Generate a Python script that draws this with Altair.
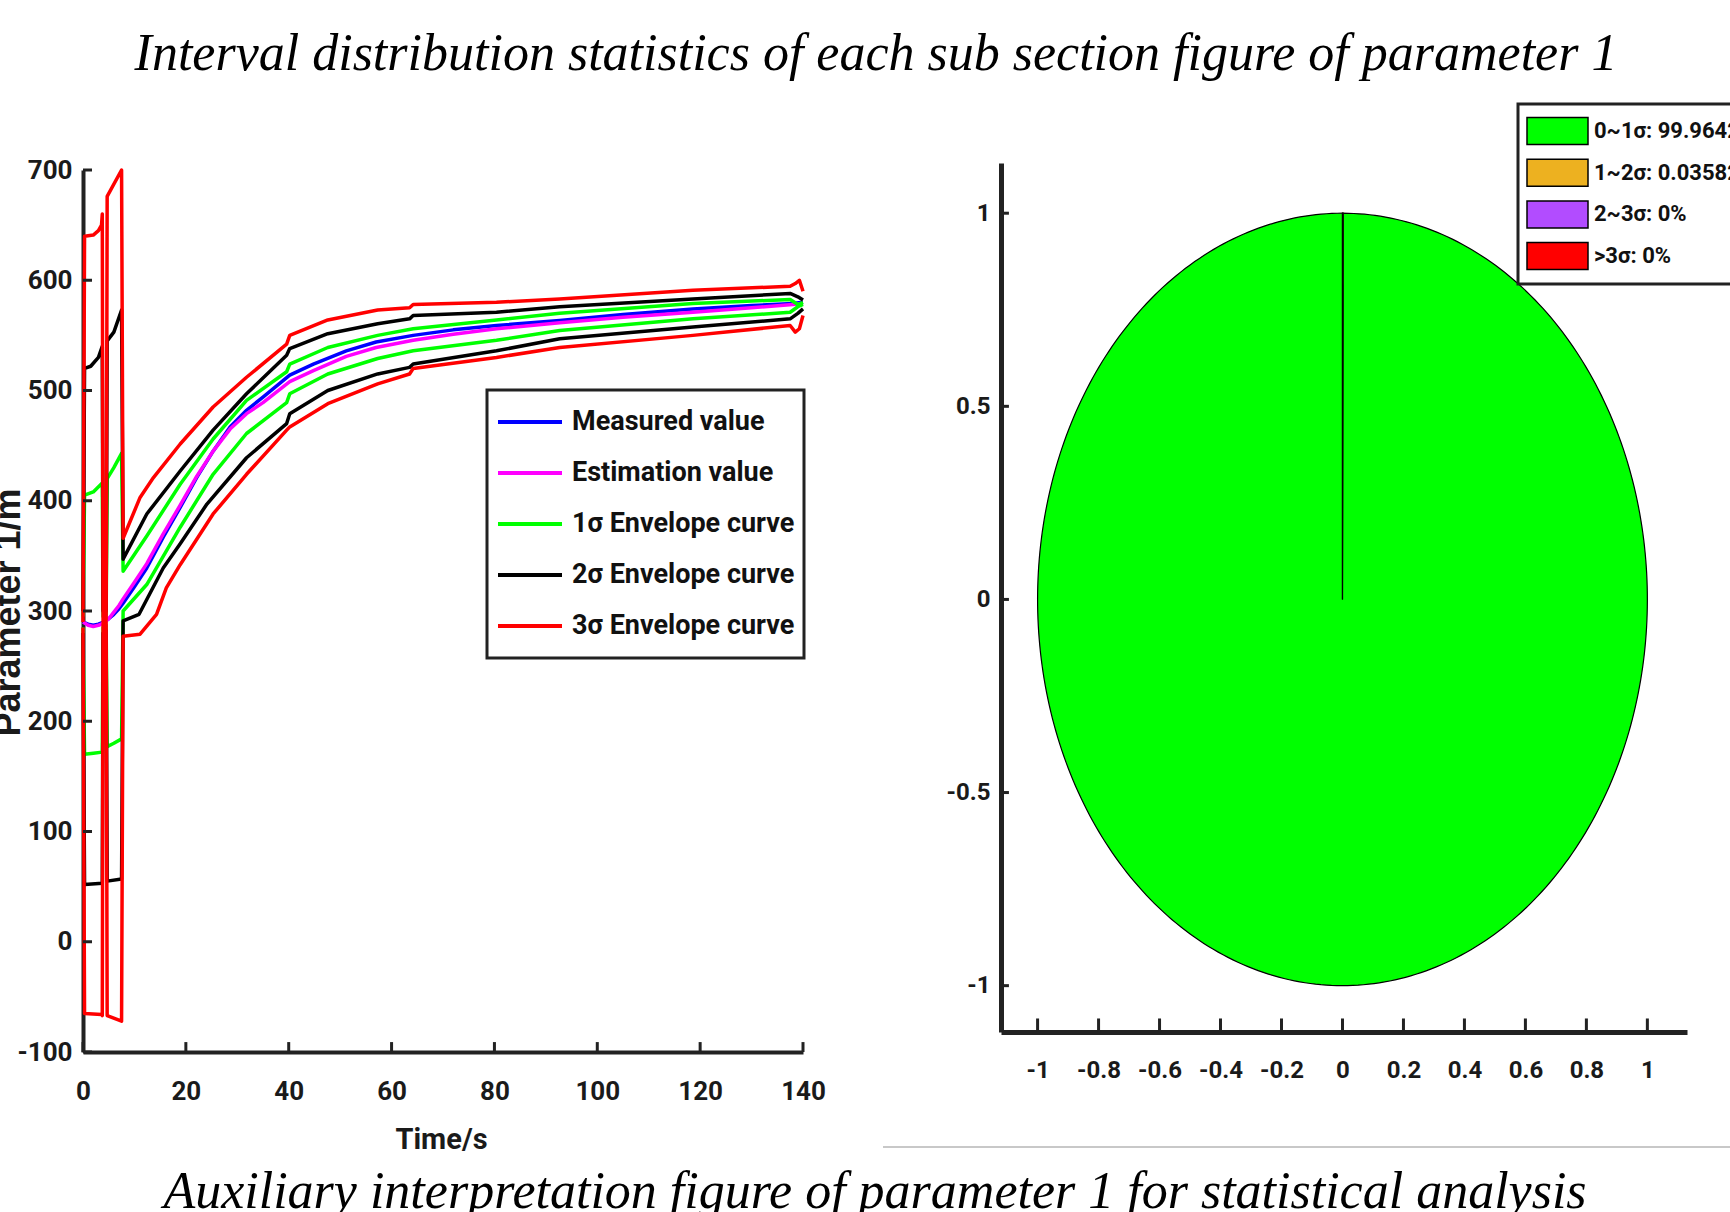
import math
import altair as alt
import pandas as pd

# ---------------- text ----------------
TITLE_TOP = "Interval distribution statistics of each sub section figure of parameter 1"
CAPTION = "Auxiliary interpretation figure of parameter 1 for statistical analysis"
X_TITLE = "Time/s"
Y_TITLE = "Parameter 1/m"

NARROW = "Roboto, Liberation Sans, Arial, sans-serif"
SANS = "Liberation Sans, Arial, sans-serif"
SERIF = "Liberation Serif, Times New Roman, serif"

# ---------------- left panel data ----------------
series_names = ["Measured value", "Estimation value", "1σ Envelope curve",
                "2σ Envelope curve", "3σ Envelope curve"]
series_colors = ["#0000ff", "#ff00ff", "#00ff00", "#000000", "#ff0000"]

center_t = [0, 1, 2, 3, 4, 5, 6, 7, 7.8, 10, 12.4, 15.6, 18.9, 22.1, 25.3, 28.6,
            31.8, 35, 40.2, 44.8, 51.2, 57, 64.2, 72, 80.4, 92.7, 105, 118.6, 130, 138, 140]
measured_v = [290, 288, 287, 288, 290, 293, 297, 302, 307, 322, 339, 367, 394, 421, 445, 467,
              482, 494, 514, 524, 536, 544, 550, 555, 559, 563.5, 569, 574, 577, 579, 580]
estimation_v = [290, 287, 286, 287, 289, 293, 299, 305, 311, 326, 343, 370, 396, 422, 445, 465,
                479, 489, 508, 518, 531, 539, 545.5, 551, 556, 561.5, 566.5, 571, 575, 578, 579]

g_t = [0, 0.3, 2, 3.75, 3.9, 4.5, 4.7, 6, 7.5, 7.8, 12.4, 18.9, 25.3, 31.8, 39.6, 40.2,
       47.6, 57.3, 64.2, 80.4, 92.7, 118.6, 137.5, 139, 140]
g_up_v = [295, 405, 408, 416, 295, 296, 420, 430, 443, 336, 368, 415, 456, 491, 517, 524,
          539, 550, 556, 564, 570, 579, 582.5, 578, 580]
g_lo_v = [285, 170, 171, 172, 285, 287, 177, 180, 184, 300, 324, 376, 424, 461, 489, 497,
          515, 529, 536, 545.5, 554.5, 565, 571, 576, 578]

k_up_t = [0, 0.3, 1.5, 3, 3.75, 3.9, 4.5, 4.7, 6, 7.5, 7.8, 12.4, 18.9, 25.3, 31.8, 39.6, 40.2,
          47.6, 57.3, 63.5, 64.2, 80.4, 92.7, 118.6, 137.5, 139, 140]
k_up_v = [300, 520, 522, 530, 540, 300, 300, 545, 553, 573, 347, 388, 427, 464, 497, 532, 538,
          551.5, 560.6, 565, 568, 571, 576, 583, 588, 585, 582]
k_lo_t = [0, 0.3, 3.75, 3.9, 4.5, 4.7, 7.5, 7.8, 10.9, 15.6, 18.9, 24.1, 31.8, 39.6, 40.2,
          47.6, 57.3, 63.5, 64.2, 80.4, 92.7, 118.6, 137.5, 139, 140]
k_lo_v = [280, 52, 53, 280, 282, 55, 57, 291, 297, 339, 361, 397, 439, 470, 479,
          500, 515, 521, 524, 536, 547, 557.5, 565, 570, 574]

r_up_t = [0, 0.3, 2, 3, 3.6, 3.75, 3.9, 4.5, 4.7, 7.5, 7.8, 11.1, 13.7, 18.9, 25.3, 31.8, 39.6,
          40.2, 47.6, 57.3, 63.5, 64.2, 80.4, 92.7, 118.6, 137.5, 138.5, 139.3, 140]
r_up_v = [290, 640, 641, 645, 650, 660, 290, 292, 676, 700, 366, 403, 421, 451.5, 485, 512, 542,
          550, 564, 573, 575, 578, 580, 583, 591, 594.5, 597, 600, 590]
r_lo_t = [0, 0.3, 3.6, 3.75, 3.9, 4.5, 4.7, 7.5, 7.8, 11.1, 14.3, 16.2, 18.9, 25.3, 31.8, 39.6,
          40.2, 47.6, 57.3, 63.5, 64.2, 80.4, 92.7, 118.6, 137.5, 138.5, 139.3, 140]
r_lo_v = [285, -65, -66, -67, 288, 290, -67, -72, 277, 279, 297, 321, 342, 388, 424, 464,
          467, 488, 506, 515, 520, 530, 539, 550, 559, 553, 556, 568]

left_x_ticks = [0, 20, 40, 60, 80, 100, 120, 140]
left_y_ticks = [-100, 0, 100, 200, 300, 400, 500, 600, 700]

# ---------------- right panel data ----------------
slice_labels = ["0~1σ: 99.9642%", "1~2σ: 0.035823%", "2~3σ: 0%", ">3σ: 0%"]
slice_share = [99.9642, 0.035823, 0, 0]
slice_colors = ["#00ff00", "#edb120", "#b24cff", "#ff0000"]

right_x_ticks = [-1, -0.8, -0.6, -0.4, -0.2, 0, 0.2, 0.4, 0.6, 0.8, 1]
right_y_ticks = [-1, -0.5, 0, 0.5, 1]

# ---------------- tables ----------------
line_defs = [
    ("Measured value", "meas", center_t, measured_v),
    ("Estimation value", "est", center_t, estimation_v),
    ("1σ Envelope curve", "g_up", g_t, g_up_v),
    ("1σ Envelope curve", "g_lo", g_t, g_lo_v),
    ("2σ Envelope curve", "k_up", k_up_t, k_up_v),
    ("2σ Envelope curve", "k_lo", k_lo_t, k_lo_v),
    ("3σ Envelope curve", "r_up", r_up_t, r_up_v),
    ("3σ Envelope curve", "r_lo", r_lo_t, r_lo_v),
]
rows = []
for name, lid, ts, vs in line_defs:
    for k, (t, v) in enumerate(zip(ts, vs)):
        rows.append({"t": t, "v": v, "series": name, "line": lid, "k": k})
lines_df = pd.DataFrame(rows)

pie_rows = []
start = 90.0
total = sum(slice_share)
for lab, share in zip(slice_labels, slice_share):
    span = 360.0 * share / total
    if span <= 0:
        continue
    n = max(2, int(math.ceil(span)))
    pts = [(0.0, 0.0)]
    for i in range(n + 1):
        a = math.radians(start + span * i / n)
        pts.append((math.cos(a), math.sin(a)))
    pts.append((0.0, 0.0))
    for k, (px, py) in enumerate(pts):
        pie_rows.append({"px": px, "py": py, "slice": lab, "k": k})
    start += span
pie_df = pd.DataFrame(pie_rows)

# ---------------- scales / axes ----------------
AX = "#222222"
HYPHEN = "replace(format(datum.value, ''), '\u2212', '-')"
x_left_scale = alt.Scale(domain=[0, 140], range=[83, 803], nice=False, zero=False)
y_left_scale = alt.Scale(domain=[-100, 700], range=[1052, 170], nice=False, zero=False)
x_right_scale = alt.Scale(domain=[-1.12, 1.13], range=[1001, 1687], nice=False, zero=False)
y_right_scale = alt.Scale(domain=[-1.12, 1.13], range=[1032, 163], nice=False, zero=False)

x_left_axis = alt.Axis(orient="bottom", offset=-160, values=left_x_ticks, ticks=False, tickSize=0,
                       domainWidth=4, domainColor=AX, labelPadding=26, labelFontSize=26,
                       labelFlush=False, labelOverlap=False, grid=False, labelExpr=HYPHEN,
                       title=X_TITLE, titleFont=NARROW, titleFontSize=29, titleFontWeight="bold",
                       titleX=441, titleY=96, titleAlign="center", titleBaseline="alphabetic",
                       titleColor="#1a1a1a")
y_left_axis = alt.Axis(orient="left", offset=-83, values=left_y_ticks, ticks=False, tickSize=0,
                       domainWidth=4, domainColor=AX, labelPadding=11, labelFontSize=26,
                       labelFlush=False, labelOverlap=False, grid=False, labelExpr=HYPHEN,
                       title=Y_TITLE, titleFont=SANS, titleFontSize=36, titleFontWeight="bold",
                       titleX=-64, titleY=612, titleAngle=270, titleAlign="center",
                       titleBaseline="alphabetic", titleColor="#1a1a1a")
x_right_axis = alt.Axis(orient="bottom", offset=-180, values=right_x_ticks, ticks=False, tickSize=0,
                        domainWidth=5, domainColor=AX, labelPadding=26, labelFontSize=24,
                        labelFlush=False, labelOverlap=False, grid=False, title=None,
                        labelExpr="'' + datum.value")
y_right_axis = alt.Axis(orient="left", offset=-1001, values=right_y_ticks, ticks=False, tickSize=0,
                        domainWidth=5, domainColor=AX, labelPadding=11, labelFontSize=24,
                        labelFlush=False, labelOverlap=False, grid=False, title=None,
                        labelExpr="'' + datum.value")

# ---------------- left panel ----------------
lines = alt.Chart(lines_df).mark_line(strokeWidth=3.5, strokeJoin="round").encode(
    x=alt.X("t:Q", scale=x_left_scale, axis=x_left_axis),
    y=alt.Y("v:Q", scale=y_left_scale, axis=y_left_axis),
    color=alt.Color("series:N", scale=alt.Scale(domain=series_names, range=series_colors),
                    legend=alt.Legend(orient="none", legendX=487, legendY=390, title=None,
                                      symbolType="stroke", symbolSize=4096, symbolStrokeWidth=4,
                                      clipHeight=46, rowPadding=5, padding=9, labelOffset=8,
                                      labelFont=NARROW, labelFontSize=27, labelFontWeight="bold",
                                      labelColor="#111111", labelLimit=0,
                                      strokeColor=AX, fillColor="white")),
    detail="line:N",
    order="k:Q",
)

ly_ticks = alt.Chart(pd.DataFrame({"v": left_y_ticks})).mark_rule(color=AX, strokeWidth=3).encode(
    y=alt.Y("v:Q", scale=y_left_scale, axis=y_left_axis),
    x=alt.datum(0), x2=alt.datum(1.75),
)
lx_ticks = alt.Chart(pd.DataFrame({"t": left_x_ticks})).mark_rule(color=AX, strokeWidth=3).encode(
    x=alt.X("t:Q", scale=x_left_scale, axis=x_left_axis),
    y=alt.datum(-100), y2=alt.datum(-91),
)
left_panel = alt.layer(lines, ly_ticks, lx_ticks)

# ---------------- right panel ----------------
pie = alt.Chart(pie_df).mark_line(stroke="black", strokeWidth=1.2).encode(
    x=alt.X("px:Q", scale=x_right_scale, axis=x_right_axis),
    y=alt.Y("py:Q", scale=y_right_scale, axis=y_right_axis),
    fill=alt.Fill("slice:N", scale=alt.Scale(domain=slice_labels, range=slice_colors),
                  legend=alt.Legend(orient="none", legendX=1518, legendY=104, title=None,
                                    symbolType="M-1,-0.443H1V0.443H-1Z", symbolSize=3721,
                                    symbolStrokeColor="black", symbolStrokeWidth=1.5,
                                    clipHeight=38, rowPadding=3.7, padding=8, labelOffset=5,
                                    labelFont=NARROW, labelFontSize=22, labelFontWeight="bold",
                                    labelColor="#111111", labelLimit=0,
                                    strokeColor=AX, fillColor="white")),
    detail="slice:N",
    order="k:Q",
)
ry_ticks = alt.Chart(pd.DataFrame({"py": right_y_ticks})).mark_rule(color=AX, strokeWidth=3).encode(
    y=alt.Y("py:Q", scale=y_right_scale, axis=y_right_axis),
    x=alt.datum(-1.12), x2=alt.datum(-1.094),
)
rx_ticks = alt.Chart(pd.DataFrame({"px": right_x_ticks})).mark_rule(color=AX, strokeWidth=3).encode(
    x=alt.X("px:Q", scale=x_right_scale, axis=x_right_axis),
    y=alt.datum(-1.12), y2=alt.datum(-1.085),
)
right_panel = alt.layer(pie, ry_ticks, rx_ticks)

# ---------------- decorations ----------------
one = pd.DataFrame({"a": [0]})
title_text = alt.Chart(one).mark_text(font=SERIF, fontSize=52, fontStyle="italic", color="black",
                                      align="center", baseline="alphabetic").encode(
    x=alt.value(876), y=alt.value(70), text=alt.value(TITLE_TOP))
caption_text = alt.Chart(one).mark_text(font=SERIF, fontSize=52, fontStyle="italic", color="black",
                                        align="center", baseline="alphabetic").encode(
    x=alt.value(875), y=alt.value(1208), text=alt.value(CAPTION))
sep_rule = alt.Chart(one).mark_rule(color="#c8c8c8", strokeWidth=2).encode(
    x=alt.value(883), x2=alt.value(1730), y=alt.value(1147))

chart = alt.layer(left_panel, right_panel, title_text, caption_text, sep_rule).resolve_scale(
    x="independent", y="independent"
).properties(
    width=1730, height=1212, autosize=alt.AutoSizeParams(type="none"), padding=0,
    background="white",
).configure_view(stroke=None).configure_axis(
    labelFont=NARROW, labelFontWeight="bold", labelColor="#1a1a1a",
).configure_legend(strokeWidth=3)

chart.save("out.html", embed_options={"renderer": "svg", "actions": False})
